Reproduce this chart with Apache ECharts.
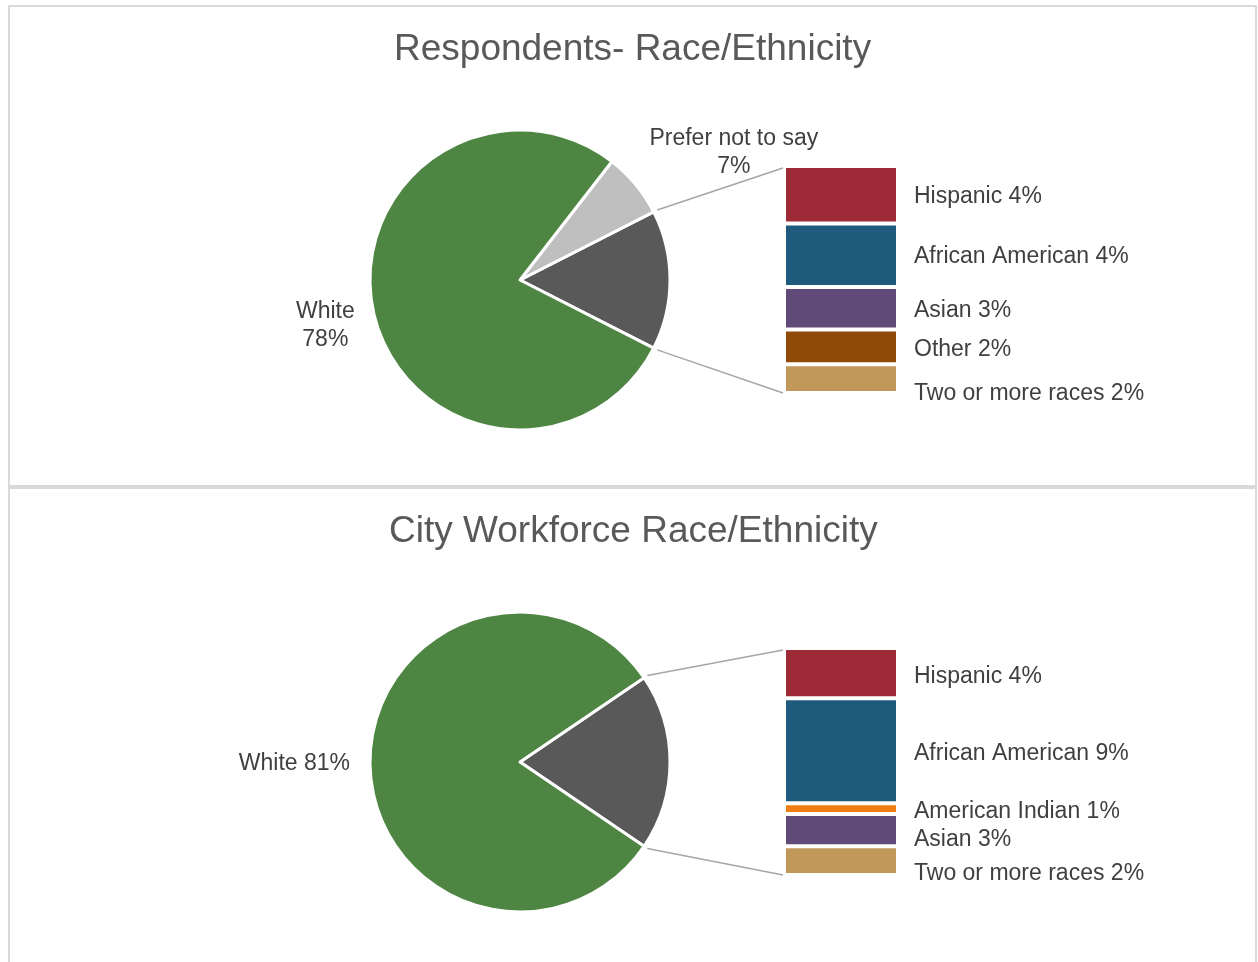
<!DOCTYPE html>
<html>
<head>
<meta charset="utf-8">
<title>Race/Ethnicity</title>
<script src="https://cdn.jsdelivr.net/npm/echarts@6/dist/echarts.min.js"></script>
<style>
  html, body { margin: 0; padding: 0; background: #fff; }
  #chart { width: 1258px; height: 962px; }
</style>
</head>
<body>
<div id="chart"></div>
<script>
// ---- data (percent of total) ----
const respTitle = 'Respondents- Race/Ethnicity'
const respPieNames = ['Prefer not to say', 'White']
const respPieValues = [7, 78]
const respBarNames = ['Hispanic', 'African American', 'Asian', 'Other', 'Two or more races']
const respBarValues = [3.8, 4.2, 2.8, 2.3, 1.9]

const cityTitle = 'City Workforce Race/Ethnicity'
const cityPieNames = ['White']
const cityPieValues = [81]
const cityBarNames = ['Hispanic', 'African American', 'American Indian', 'Asian', 'Two or more races']
const cityBarValues = [4.2, 8.8, 0.9, 2.7, 2.4]

// ---- look ----
const FONT = 'Liberation Sans, Arial, sans-serif'
const LABEL_SIZE = 23
const TITLE_SIZE = 37
const colorMap = {
  'White': '#4e8542',
  'Prefer not to say': '#bfbfbf',
  'rest': '#595959',
  'Hispanic': '#9e2937',
  'African American': '#1e5a7b',
  'American Indian': '#ef7f12',
  'Asian': '#604a78',
  'Other': '#8f4a08',
  'Two or more races': '#c2975a'
}

// layout of the two panels
const panels = [
  {
    title: respTitle, pieNames: respPieNames, pieValues: respPieValues,
    barNames: respBarNames, barValues: respBarValues,
    boxTop: 6, titleTop: 26, center: [520, 280], gridTop: 166,
    pieLabelShift: { 'Prefer not to say': [5, -29], 'White': [-9, 12] },
    barLabelShift: { 'Hispanic': 2, 'African American': 1, 'Asian': 2, 'Other': 3, 'Two or more races': 15 }
  },
  {
    title: cityTitle, pieNames: cityPieNames, pieValues: cityPieValues,
    barNames: cityBarNames, barValues: cityBarValues,
    boxTop: 488, titleTop: 508, center: [520, 762], gridTop: 648,
    pieLabelShift: { 'White': [-10, 2] },
    barLabelShift: { 'Hispanic': 4, 'African American': 3, 'American Indian': 3, 'Asian': 9, 'Two or more races': 13 }
  }
]
const RADIUS = 150
const GRID_LEFT = 784
const GRID_W = 114
const GRID_H = 227
const TITLE_CENTER_X = 633

const sum = arr => arr.reduce((a, b) => a + b, 0)

// width of a title so it can be centred over the panel
const measureCtx = document.createElement('canvas').getContext('2d')
const textWidth = (txt, size) => {
  measureCtx.font = size + 'px ' + FONT
  return measureCtx.measureText(txt).width
}

const chart = echarts.init(document.getElementById('chart'))

const titles = []
const grids = []
const xAxes = []
const yAxes = []
const series = []
const graphics = []

panels.forEach((p, i) => {
  const restTotal = sum(p.barValues)
  const total = restTotal + sum(p.pieValues)
  const half = restTotal / total * 180 // the split-off slice faces right

  titles.push({
    text: p.title,
    left: Math.round(TITLE_CENTER_X - textWidth(p.title, TITLE_SIZE) / 2) - 5,
    top: p.titleTop,
    textStyle: { fontFamily: FONT, fontSize: TITLE_SIZE, fontWeight: 'normal', color: '#595959' }
  })

  // panel frame
  graphics.push({
    type: 'rect', z: -10, silent: true,
    shape: { x: 9, y: p.boxTop, width: 1247, height: 480 },
    style: { fill: '#fff', stroke: '#d9d9d9', lineWidth: 2 }
  })

  const pieData = [{
    name: 'rest', value: restTotal,
    itemStyle: { color: colorMap.rest },
    label: { show: false }
  }].concat(p.pieNames.map((n, k) => ({
    name: n, value: p.pieValues[k], itemStyle: { color: colorMap[n] }
  })))

  series.push({
    type: 'pie',
    center: p.center,
    radius: RADIUS,
    clockwise: false,
    startAngle: 360 - half,
    avoidLabelOverlap: false,
    animation: false,
    emphasis: { disabled: true },
    itemStyle: { borderColor: '#fff', borderWidth: 3 },
    label: {
      position: 'outside',
      fontFamily: FONT,
      fontSize: LABEL_SIZE,
      color: '#404040',
      formatter: d => {
        const pct = Math.round(d.value / total * 100) + '%'
        return d.name === 'White' && i === 1
          ? '{t|' + d.name + ' ' + pct + '}'
          : '{t|' + d.name + '}\n{t|' + pct + '}'
      },
      rich: { t: { align: 'center', fontFamily: FONT, fontSize: LABEL_SIZE, lineHeight: 28, color: '#404040' } }
    },
    labelLine: { show: false, length: 5, length2: 0 },
    labelLayout: prm => {
      const s = p.pieLabelShift[pieData[prm.dataIndex].name] || [0, 0]
      return { dx: s[0], dy: s[1] }
    },
    data: pieData
  })

  // bar of pie
  grids.push({ left: GRID_LEFT, top: p.gridTop, width: GRID_W, height: GRID_H })
  xAxes.push({ type: 'category', gridIndex: i, data: [''], show: false })
  yAxes.push({ type: 'value', gridIndex: i, min: 0, max: restTotal, inverse: true, show: false })

  p.barNames.forEach((n, k) => {
    series.push({
      type: 'bar',
      name: n,
      xAxisIndex: i,
      yAxisIndex: i,
      stack: 'rest' + i,
      barWidth: GRID_W,
      animation: false,
      emphasis: { disabled: true },
      itemStyle: { color: colorMap[n], borderColor: '#fff', borderWidth: 2 },
      label: {
        show: true,
        position: 'right',
        distance: 16,
        offset: [0, p.barLabelShift[n] || 0],
        fontFamily: FONT,
        fontSize: LABEL_SIZE,
        color: '#404040',
        formatter: d => d.seriesName + ' ' + Math.round(d.value) + '%'
      },
      data: [p.barValues[k]]
    })
  })

  // connector lines from the split slice to the bar
  const rad = half * Math.PI / 180
  const r = RADIUS + 4
  const ex = p.center[0] + r * Math.cos(rad)
  const dy = r * Math.sin(rad)
  graphics.push({
    type: 'line', silent: true,
    shape: { x1: ex, y1: p.center[1] - dy, x2: GRID_LEFT - 1, y2: p.gridTop + 2 },
    style: { stroke: '#a6a6a6', lineWidth: 1.5 }
  })
  graphics.push({
    type: 'line', silent: true,
    shape: { x1: ex, y1: p.center[1] + dy, x2: GRID_LEFT - 1, y2: p.gridTop + GRID_H },
    style: { stroke: '#a6a6a6', lineWidth: 1.5 }
  })
})

chart.setOption({
  backgroundColor: '#fff',
  animation: false,
  title: titles,
  tooltip: { show: false },
  grid: grids,
  xAxis: xAxes,
  yAxis: yAxes,
  series: series,
  graphic: graphics
})
</script>
</body>
</html>
